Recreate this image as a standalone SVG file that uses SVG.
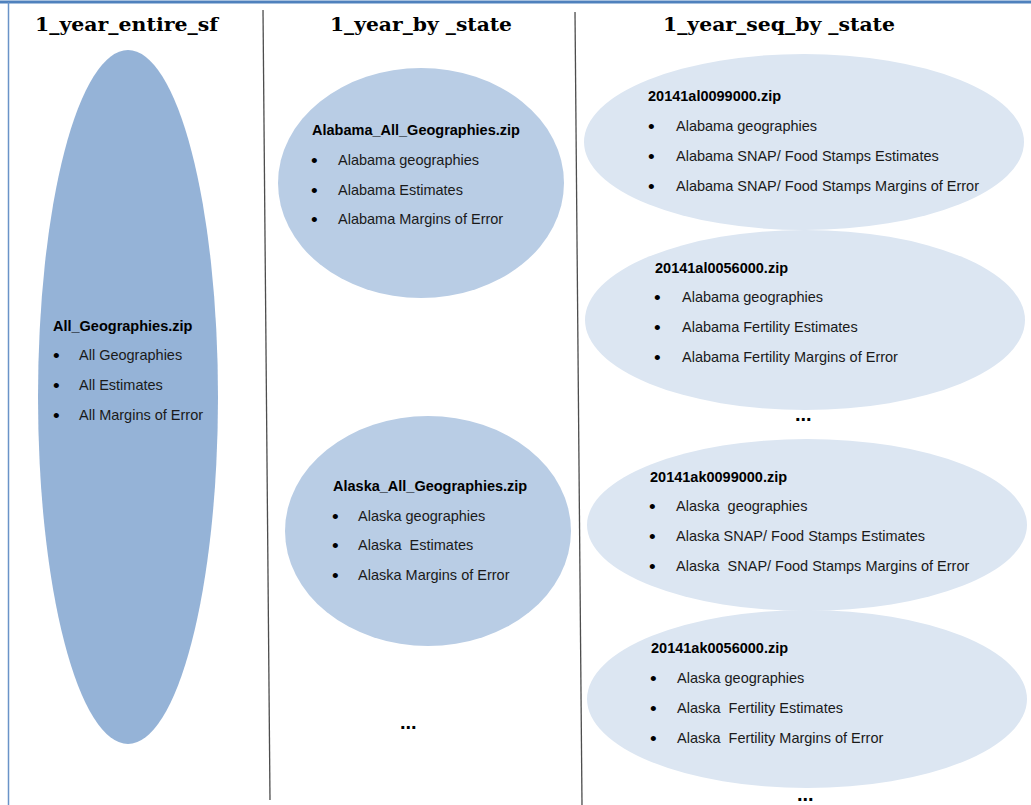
<svg xmlns="http://www.w3.org/2000/svg" width="1031" height="805" viewBox="0 0 1031 805">
<style>
.hd{font-family:"DejaVu Serif","Liberation Serif",serif;font-weight:bold;font-size:19px;fill:#000}
.t{font-family:"Liberation Sans",Arial,sans-serif;font-size:14.5px;fill:#1a1a1a;white-space:pre}
.bl{font-family:"Liberation Sans",Arial,sans-serif;font-size:19px;fill:#000}
.b{font-family:"Liberation Sans",Arial,sans-serif;font-size:14.5px;font-weight:bold;fill:#000}
.dot{font-family:"Liberation Sans",Arial,sans-serif;font-size:20px;font-weight:bold;fill:#000}
.e1{fill:#95b3d7}
.e2{fill:#b9cde5}
.e3{fill:#dce6f2}
.div{stroke:#4d4d4d;stroke-width:1.3;fill:none}
</style>
<rect width="1031" height="805" fill="#fff"/>
<g id="frame">
<line x1="0" y1="2" x2="1031" y2="2" stroke="#4f81bd" stroke-width="3"/>
<line x1="8.5" y1="2" x2="8.5" y2="805" stroke="#6a93c8" stroke-width="1.5"/>
</g>
<g id="connectors">
<line class="div" x1="263" y1="10" x2="270" y2="800"/>
<line class="div" x1="575" y1="12" x2="582" y2="805"/>
</g>
<g id="headers">
<text class="hd" x="35" y="31" textLength="183" lengthAdjust="spacingAndGlyphs">1_year_entire_sf</text>
<text class="hd" x="330" y="31" textLength="182" lengthAdjust="spacingAndGlyphs">1_year_by _state</text>
<text class="hd" x="663" y="31" textLength="232" lengthAdjust="spacingAndGlyphs">1_year_seq_by _state</text>
</g>
<g id="entire">
<ellipse class="e1" cx="128" cy="397" rx="90" ry="347"/>
<text class="b" x="53" y="331">All_Geographies.zip</text>
<text class="bl" x="53" y="362">•</text><text class="t" x="79" y="360">All Geographies</text>
<text class="bl" x="53" y="392">•</text><text class="t" x="79" y="390">All Estimates</text>
<text class="bl" x="53" y="422">•</text><text class="t" x="79" y="420">All Margins of Error</text>
</g>
<g id="alabama_all">
<ellipse class="e2" cx="421" cy="183" rx="143" ry="115"/>
<text class="b" x="312" y="135">Alabama_All_Geographies.zip</text>
<text class="bl" x="311" y="167">•</text><text class="t" x="338" y="165">Alabama geographies</text>
<text class="bl" x="311" y="197">•</text><text class="t" x="338" y="195">Alabama Estimates</text>
<text class="bl" x="311" y="226">•</text><text class="t" x="338" y="224">Alabama Margins of Error</text>
</g>
<g id="alaska_all">
<ellipse class="e2" cx="428" cy="531" rx="143" ry="115"/>
<text class="b" x="333" y="491">Alaska_All_Geographies.zip</text>
<text class="bl" x="332" y="523">•</text><text class="t" x="358" y="521">Alaska geographies</text>
<text class="bl" x="332" y="552">•</text><text class="t" x="358" y="550">Alaska  Estimates</text>
<text class="bl" x="332" y="582">•</text><text class="t" x="358" y="580">Alaska Margins of Error</text>
</g>
<text class="dot" x="400" y="729">...</text>
<g id="al0099">
<ellipse class="e3" cx="804" cy="142" rx="220" ry="88"/>
<text class="b" x="648" y="101">20141al0099000.zip</text>
<text class="bl" x="648" y="133">•</text><text class="t" x="676" y="131">Alabama geographies</text>
<text class="bl" x="648" y="163">•</text><text class="t" x="676" y="161">Alabama SNAP/ Food Stamps Estimates</text>
<text class="bl" x="648" y="193">•</text><text class="t" x="676" y="191">Alabama SNAP/ Food Stamps Margins of Error</text>
</g>
<g id="al0056">
<ellipse class="e3" cx="805" cy="320" rx="220" ry="90"/>
<text class="b" x="655" y="273">20141al0056000.zip</text>
<text class="bl" x="654" y="304">•</text><text class="t" x="682" y="302">Alabama geographies</text>
<text class="bl" x="654" y="334">•</text><text class="t" x="682" y="332">Alabama Fertility Estimates</text>
<text class="bl" x="654" y="364">•</text><text class="t" x="682" y="362">Alabama Fertility Margins of Error</text>
</g>
<text class="dot" x="795" y="421">...</text>
<g id="ak0099">
<ellipse class="e3" cx="807" cy="525" rx="220" ry="86"/>
<text class="b" x="650" y="482">20141ak0099000.zip</text>
<text class="bl" x="649" y="513">•</text><text class="t" x="676" y="511">Alaska  geographies</text>
<text class="bl" x="649" y="543">•</text><text class="t" x="676" y="541">Alaska SNAP/ Food Stamps Estimates</text>
<text class="bl" x="649" y="573">•</text><text class="t" x="676" y="571">Alaska  SNAP/ Food Stamps Margins of Error</text>
</g>
<g id="ak0056">
<ellipse class="e3" cx="807" cy="699" rx="220" ry="89"/>
<text class="b" x="651" y="653">20141ak0056000.zip</text>
<text class="bl" x="650" y="685">•</text><text class="t" x="677" y="683">Alaska geographies</text>
<text class="bl" x="650" y="715">•</text><text class="t" x="677" y="713">Alaska  Fertility Estimates</text>
<text class="bl" x="650" y="745">•</text><text class="t" x="677" y="743">Alaska  Fertility Margins of Error</text>
</g>
<text class="dot" x="797" y="801">...</text>
</svg>
